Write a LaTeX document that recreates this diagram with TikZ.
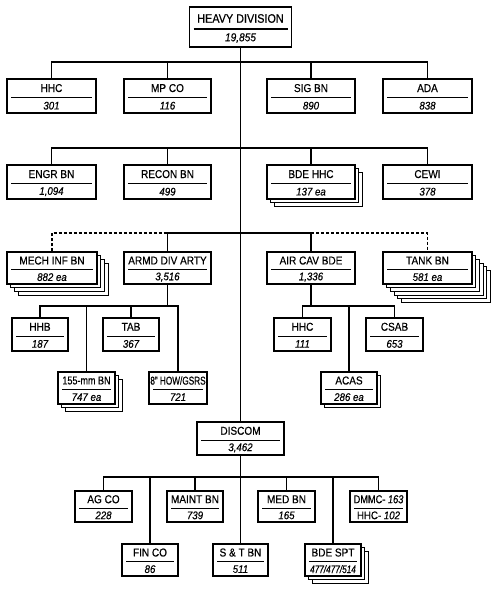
\documentclass[tikz,border=0pt]{standalone}
\usepackage{fontspec}
\setmainfont[FakeStretch=0.88,FakeBold=0.45]{Liberation Sans}
\usetikzlibrary{fit,calc}
\tikzset{
  unitbox/.style={draw, line width=1.2pt, fill=white, inner sep=0pt},
  backbox/.style={draw, line width=1.1pt, fill=white},
  conn/.style={line width=1.3pt},
  mainline/.style={line width=1.7pt},
  dconn/.style={line width=1.1pt, dash pattern=on 3pt off 2pt},
  divline/.style={line width=1.1pt},
  ttl/.style={font=\fontsize{11.4}{13}\selectfont, inner sep=0pt},
  num/.style={font=\fontsize{11}{13}\selectfont\itshape, inner sep=0pt}
}
% \orgunit{name}{x1}{y1}{x2}{y2}{extra layers}{title}{number}
\newcommand\orgunit[8]{%
  \ifnum#6>0
    \foreach \k in {#6,...,1}{%
      \draw[backbox] ({#2+\k*3.7},{#3+\k*3.7}) rectangle ({#4+\k*3.7},{#5+\k*3.7});
    }
  \fi
  \node[unitbox, fit={(#2,#3) (#4,#5)}] (#1) {};
  \coordinate (#1-d) at ($(#1.north)!0.55!(#1.south)$);
  \draw[divline] ([xshift=5pt]#1.west |- #1-d) -- ([xshift=-5pt]#1.east |- #1-d);
  \node[ttl] (#1-t) at ($(#1.north)!0.5!(#1-d)$) {#7};
  \node[num] (#1-n) at ($(#1-d)!0.5!(#1.south)$) {#8};
}
\begin{document}
\begin{tikzpicture}[x=1pt,y=-1pt]
\useasboundingbox[fill=white] (0,0) rectangle (500,591);
\coordinate (bus1) at (240.5,62);
\coordinate (bus2) at (240.5,148);
\coordinate (bus3) at (240.5,233);
\coordinate (bus4) at (168,306);
\coordinate (bus5) at (312,306);
\coordinate (bus6) at (240.5,477);

% top
\node[unitbox, fit={(189.5,7) (291.5,47)}] (hd) {};
\coordinate (hd-d) at (240.5,29);
\draw[divline] (193.5,29) -- (287.5,29);
\node[ttl, font=\fontsize{12.3}{14}\selectfont] (hd-t) at (240.5,18.5) {HEAVY DIVISION};
\node[num, font=\fontsize{11.5}{13}\selectfont\itshape] (hd-n) at (240.5,38) {19,855};

% row 1
\orgunit{hhc}{7}{79}{96}{113}{0}{HHC}{301}
\orgunit{mpco}{124}{79}{211}{113}{0}{MP CO}{116}
\orgunit{sig}{267}{79}{355}{113}{0}{SIG BN}{890}
\orgunit{ada}{383}{79}{472}{113}{0}{ADA}{838}
% row 2
\orgunit{engr}{7}{165}{96}{199}{0}{ENGR BN}{1,094}
\orgunit{recon}{124}{165}{211}{199}{0}{RECON BN}{499}
\orgunit{bdehhc}{267}{165}{355}{199}{2}{BDE HHC}{137 ea}
\orgunit{cewi}{383}{165}{472}{199}{0}{CEWI}{378}
% row 3
\orgunit{mech}{7}{252}{97}{284}{3}{MECH INF BN}{882 ea}
\orgunit{arty}{124}{252}{211}{284}{0}{ARMD DIV ARTY}{3,516}
\orgunit{aircav}{267}{252}{355}{284}{0}{AIR CAV BDE}{1,336}
\orgunit{tank}{383}{252}{472}{284}{5}{TANK BN}{581 ea}
% arty subunits
\orgunit{hhb}{12}{318}{68}{351}{0}{HHB}{187}
\orgunit{tab}{103}{318}{159}{351}{0}{TAB}{367}
\orgunit{bnf}{58}{372}{115}{404}{2}{\scalebox{0.9}[1]{155-mm BN}}{747 ea}
\orgunit{how}{149}{372}{207}{404}{0}{\scalebox{0.82}[1]{8" HOW/GSRS}}{721}
% air cav subunits
\orgunit{hhcb}{274}{318}{331}{351}{0}{HHC}{111}
\orgunit{csab}{366}{318}{423}{351}{0}{CSAB}{653}
\orgunit{acas}{321}{372}{377}{404}{1}{ACAS}{286 ea}
% discom
\orgunit{discom}{197}{422}{284}{455}{0}{DISCOM}{3,462}
\orgunit{agco}{75}{491}{132}{522}{0}{AG CO}{228}
\orgunit{maint}{167}{491}{223}{522}{0}{MAINT BN}{739}
\orgunit{med}{258}{491}{315}{522}{0}{MED BN}{165}
\orgunit{dmmc}{350}{491}{407}{522}{0}{\scalebox{0.92}[1]{DMMC- \textit{163}}}{\upshape HHC- \itshape 102}
\orgunit{fin}{122}{544}{178}{576}{0}{FIN CO}{86}
\orgunit{st}{213}{544}{268}{576}{0}{S \& T BN}{511}
\orgunit{bdespt}{305}{544}{361}{576}{2}{BDE SPT}{\scalebox{0.85}[1]{477/477/514}}

% connectors
\draw[mainline] (hd.south) -- (discom.north);
\draw[conn] (hhc.north) |- (bus1) -| (ada.north);
\draw[conn] (mpco.north) -- (mpco.north |- bus1);
\draw[conn] (sig.north) -- (sig.north |- bus1);
\draw[conn] (engr.north) |- (bus2) -| (cewi.north);
\draw[conn] (recon.north) -- (recon.north |- bus2);
\draw[conn] (bdehhc.north) -- (bdehhc.north |- bus2);
\draw[dconn] (mech.north) |- (arty.north |- bus3);
\draw[conn] (arty.north) |- (bus3) -| (aircav.north);
\draw[dconn] (aircav.north |- bus3) -| (tank.north);
\draw[conn] (arty.south) -- (arty.south |- bus4);
\draw[conn] (hhb.north) |- (bus4) -| (how.north);
\draw[conn] (tab.north) -- (tab.north |- bus4);
\draw[conn] (bnf.north) -- (bnf.north |- bus4);
\draw[conn] (aircav.south) -- (aircav.south |- bus5);
\draw[conn] (hhcb.north) |- (bus5) -| (csab.north);
\draw[conn] (acas.north) -- (acas.north |- bus5);
\draw[conn] (agco.north) |- (bus6) -| (dmmc.north);
\draw[conn] (fin.north) -- (fin.north |- bus6);
\draw[conn] (maint.north) -- (maint.north |- bus6);
\draw[mainline] (st.north) -- (discom.south);
\draw[conn] (med.north) -- (med.north |- bus6);
\draw[conn] (bdespt.north) -- (bdespt.north |- bus6);
\end{tikzpicture}
\end{document}
